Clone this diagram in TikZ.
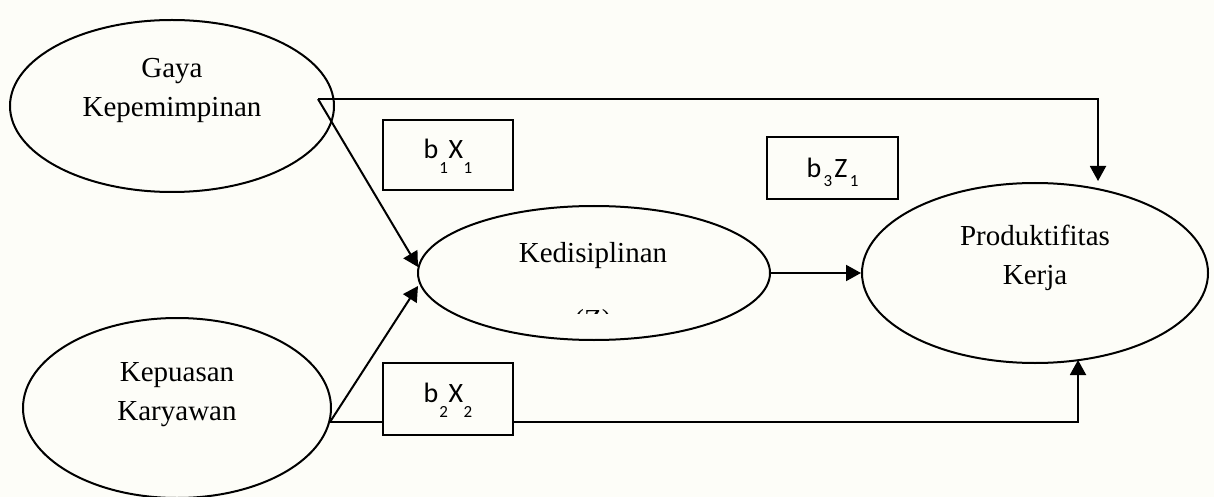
\documentclass[tikz,border=0pt]{standalone}
\usepackage{fontspec}
\setmainfont{Liberation Serif}
\newfontfamily\coeffont{Carlito}
\usetikzlibrary{shapes.geometric,arrows.meta}
\definecolor{paper}{RGB}{253,253,248}
% lowered index used in the coefficient boxes
\newcommand\lowidx[2]{\raisebox{-#1}{\fontsize{8.5}{9}\selectfont #2}}

\begin{document}
\begin{tikzpicture}[x=0.5pt,y=-0.5pt,
  latent/.style={draw,ellipse,line width=1pt,inner sep=0pt},
  lbl/.style={font=\fontsize{14.5}{19.5}\selectfont,align=center,anchor=base,inner sep=0pt},
  coef/.style={draw,fill=paper,line width=1pt,inner sep=0pt,
    font=\fontsize{14}{16}\coeffont},
  arr/.style={line width=1pt,-{Triangle[length=7.5pt,width=8pt]}},
  link/.style={line width=1pt}]
\fill[paper] (0,0) rectangle (1214,497);
\useasboundingbox (0,0) rectangle (1214,497);

% latent variables
\node[latent,minimum width=162pt,minimum height=86pt] (gaya) at (172,106) {};
\node[latent,minimum width=154pt,minimum height=90pt] (puas) at (177,408) {};
\node[latent,minimum width=176pt,minimum height=67pt] (disiplin) at (594,273) {};
\node[latent,minimum width=173pt,minimum height=90pt] (prod) at (1035,273) {};

% labels (base anchor = baseline of the last line)
\node[lbl] (gaya-t) at (172,117) {Gaya\\Kepemimpinan};
\node[lbl] (puas-t) at (177,420) {Kepuasan\\Karyawan};
\node[lbl] (disiplin-t) at (593,263) {Kedisiplinan};
\node[lbl] (prod-t) at (1035,285) {Produktifitas\\Kerja};
\begin{scope}
  \clip (540,300) rectangle (650,313);
  \node[lbl] (disiplin-z) at (593,329) {(Z)};
\end{scope}

% path end points
\coordinate (g0) at (318,99);
\coordinate (k0) at (330,422);
\coordinate (d1) at (418,267);
\coordinate (d2) at (418,286);
\coordinate (ptop) at (1098,181);
\coordinate (pbot) at (1078,360);

% connectors
\draw[arr] (g0) -| (ptop);
\draw[arr] (g0) -- (d1);
\draw[arr] (k0) -- (d2);
\draw[arr] (k0) -| (pbot);
\draw[arr] (disiplin.east) -- (prod.west);

% path coefficients
\node[coef,minimum width=65pt,minimum height=35pt,text height=8pt,text depth=4pt]
  (b1) at (448,155) {b\kern0.5pt\lowidx{7.5pt}{1}\kern0.3ptX\kern0.3pt\lowidx{7.5pt}{1}};
\node[coef,minimum width=65.5pt,minimum height=31pt,text height=12pt,text depth=2pt]
  (b3) at (832.5,168) {b\kern1.2pt\lowidx{4.5pt}{3}\kern1pt Z\kern1.2pt\lowidx{4.5pt}{1}};
\node[coef,minimum width=65pt,minimum height=36pt,text height=8pt,text depth=5pt]
  (b2) at (448,399) {b\kern0.5pt\lowidx{7.5pt}{2}\kern0.3ptX\kern0.3pt\lowidx{7.5pt}{2}};
\end{tikzpicture}
\end{document}
